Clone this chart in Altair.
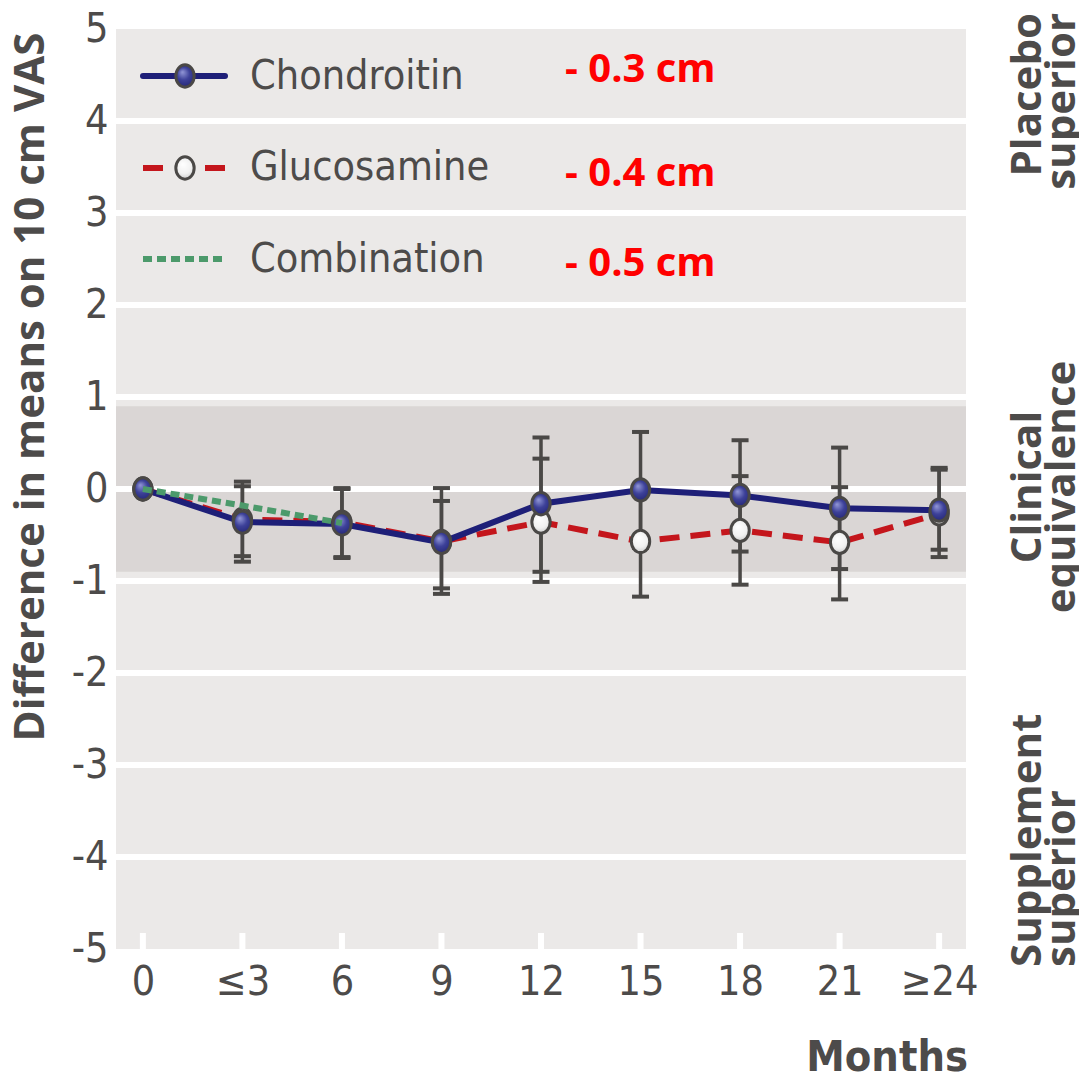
import altair as alt
import pandas as pd

# ---------------- data ----------------
months = ["0", "≤3", "6", "9", "12", "15", "18", "21", "≥24"]

chond = [0.0, -0.36, -0.38, -0.58, -0.16, -0.01, -0.07, -0.21, -0.23]
chond_lo = [None, -0.79, -0.75, -1.14, -0.90, -0.64, -0.68, -0.87, -0.66]
chond_hi = [None, 0.03, 0.01, 0.01, 0.56, 0.62, 0.53, 0.45, 0.23]

gluc = [0.0, -0.33, -0.36, -0.57, -0.36, -0.57, -0.45, -0.58, -0.27]
gluc_lo = [None, -0.73, -0.74, -1.08, -1.01, -1.17, -1.04, -1.20, -0.74]
gluc_hi = [None, 0.08, 0.00, -0.13, 0.33, 0.03, 0.14, 0.02, 0.21]

comb_months = ["0", "≤3", "6"]
comb = [0.0, -0.18, -0.37]

y_ticks = [5, 4, 3, 2, 1, 0, -1, -2, -3, -4, -5]
grid_vals = [4, 3, 2, 1, 0, -1, -2, -3, -4]
equiv_lo, equiv_hi = -0.9, 0.9

legend_labels = ["Chondroitin", "Glucosamine", "Combination"]
effect_labels = ["- 0.3 cm", "- 0.4 cm", "- 0.5 cm"]
y_title = "Difference in means on 10 cm VAS"
x_title = "Months"
side_labels = [["Placebo", "superior"], ["Clinical", "equivalence"], ["Supplement", "superior"]]

# ---------------- styles ----------------
COND = "Liberation Sans Narrow, DejaVu Sans Condensed, sans-serif"
BOLD = "Open Sans, Liberation Sans, sans-serif"
FS = 41
TXT = "#4d4b4a"
NAVY = "#1e1f78"
RED = "#c4161c"
GREEN = "#4c9a6b"
BAR = "#4a4846"
W, H = 850, 920

ELLIPSE = "M0,-1A0.82,1,0,1,1,0,1A0.82,1,0,1,1,0,-1Z"
navy_grad = {"gradient": "radial", "x1": 0.38, "y1": 0.32, "r1": 0.0,
             "x2": 0.5, "y2": 0.5, "r2": 0.62,
             "stops": [{"offset": 0, "color": "#9499d8"},
                       {"offset": 0.45, "color": "#3d4199"},
                       {"offset": 1, "color": "#1c1e6a"}]}
white_grad = {"gradient": "radial", "x1": 0.4, "y1": 0.32, "r1": 0.0,
              "x2": 0.5, "y2": 0.5, "r2": 0.62,
              "stops": [{"offset": 0, "color": "#ffffff"},
                        {"offset": 0.55, "color": "#f1f1f1"},
                        {"offset": 1, "color": "#b9b9b9"}]}

df_c = pd.DataFrame({"month": months, "value": chond, "lo": chond_lo, "hi": chond_hi})
df_g = pd.DataFrame({"month": months, "value": gluc, "lo": gluc_lo, "hi": gluc_hi})
df_comb = pd.DataFrame({"month": comb_months, "value": comb})
df_err = pd.concat([df_c, df_g]).dropna(subset=["lo", "hi"]).reset_index(drop=True)
df_caps = pd.concat([
    pd.DataFrame({"month": df_err["month"], "v": df_err["lo"]}),
    pd.DataFrame({"month": df_err["month"], "v": df_err["hi"]}),
]).reset_index(drop=True)
df_grid = pd.DataFrame({"g": grid_vals})
df_band = pd.DataFrame({"lo": [equiv_lo], "hi": [equiv_hi]})
df_months = pd.DataFrame({"month": months})
one = pd.DataFrame({"k": [0]})

x_scale = alt.Scale(domain=months, type="point", padding=0.27)
y_scale = alt.Scale(domain=[-5, 5], nice=False, zero=False)

x_axis = alt.Axis(labelFont=COND, labelFontSize=FS, labelColor=TXT, ticks=False,
                  domain=False, grid=False, labelPadding=13, labelAngle=0,
                  title=None, labelOverlap=False)
y_axis = alt.Axis(values=y_ticks, ticks=False, domain=False, grid=False,
                  labelFont=COND, labelFontSize=FS, labelColor=TXT,
                  labelPadding=8, title=None, labelFlush=False, labelOverlap=False,
                  labelExpr="datum.value < 0 ? '-' + abs(datum.value) : '' + datum.value")


def X():
    return alt.X("month:N", scale=x_scale, sort=months, axis=x_axis)


def Y(field):
    return alt.Y(field, type="quantitative", scale=y_scale, axis=y_axis)


layers = []

# clinical equivalence band
layers.append(alt.Chart(df_band).mark_rect(color="#dad6d5").encode(
    x=alt.value(0), x2=alt.value(W), y=Y("lo"), y2="hi"))

# white grid lines
layers.append(alt.Chart(df_grid).mark_rule(color="white", strokeWidth=6).encode(
    y=Y("g"), x=alt.value(0), x2=alt.value(W)))

# white bottom ticks
layers.append(alt.Chart(df_months).mark_rule(color="white", strokeWidth=6).encode(
    x=X(), y=alt.value(H), y2=alt.value(H - 16)))

# lines
layers.append(alt.Chart(df_g).mark_line(color=RED, strokeWidth=6, strokeDash=[20, 11]).encode(
    x=X(), y=Y("value")))
layers.append(alt.Chart(df_c).mark_line(color=NAVY, strokeWidth=6).encode(
    x=X(), y=Y("value")))

# error bars
layers.append(alt.Chart(df_err).mark_rule(color=BAR, strokeWidth=3.5).encode(
    x=X(), y=Y("lo"), y2="hi"))
layers.append(alt.Chart(df_caps).mark_tick(color=BAR, thickness=4, size=17,
                                           orient="horizontal", opacity=1).encode(
    x=X(), y=Y("v")))

# markers
layers.append(alt.Chart(df_g).mark_point(shape=ELLIPSE, size=500, filled=True, fill=white_grad,
                                         stroke=BAR, strokeWidth=3, opacity=1).encode(
    x=X(), y=Y("value")))
layers.append(alt.Chart(df_c).mark_point(shape=ELLIPSE, size=500, filled=True, fill=navy_grad,
                                         stroke=BAR, strokeWidth=3, opacity=1).encode(
    x=X(), y=Y("value")))

# combination line
layers.append(alt.Chart(df_comb).mark_line(color=GREEN, strokeWidth=6, strokeDash=[9, 5]).encode(
    x=X(), y=Y("value")))

# ---------------- legend ----------------
rows = [47, 139, 230]
line_styles = [dict(color=NAVY, strokeWidth=6, strokeCap="round"),
               dict(color=RED, strokeWidth=6, strokeDash=[20, 42]),
               dict(color=GREEN, strokeWidth=6, strokeDash=[9, 5])]
marker_fills = [navy_grad, white_grad, None]
text_dy = [1, 0, 1]
effect_y = [41, 145, 235]
for i, lab in enumerate(legend_labels):
    r = rows[i]
    layers.append(alt.Chart(one).mark_rule(**line_styles[i]).encode(
        x=alt.value(27), x2=alt.value(109), y=alt.value(r)))
    if marker_fills[i] is not None:
        layers.append(alt.Chart(one).mark_point(shape=ELLIPSE, size=500, filled=True,
                                                fill=marker_fills[i], stroke=BAR,
                                                strokeWidth=3, opacity=1).encode(
            x=alt.value(69), y=alt.value(r)))
    layers.append(alt.Chart(one).mark_text(align="left", baseline="middle", font=COND,
                                           fontSize=FS, color=TXT).encode(
        x=alt.value(134), y=alt.value(r + text_dy[i]), text=alt.value(lab)))
    layers.append(alt.Chart(one).mark_text(align="left", baseline="middle", font=BOLD,
                                           fontWeight="bold", fontSize=40, color="#ff0000").encode(
        x=alt.value(449), y=alt.value(effect_y[i]), text=alt.value(effect_labels[i])))

# ---------------- titles / side labels ----------------
layers.append(alt.Chart(one).mark_text(angle=270, align="center", baseline="alphabetic",
                                       font=BOLD, fontWeight="bold", fontSize=42, color=TXT).encode(
    x=alt.value(-72), y=alt.value(358), text=alt.value(y_title)))

layers.append(alt.Chart(one).mark_text(align="right", baseline="alphabetic", font=COND,
                                       fontWeight="bold", fontSize=43, color=TXT).encode(
    x=alt.value(852), y=alt.value(1042), text=alt.value(x_title)))

side_pos = [(-16, "right"), (458, "center"), (938, "left")]
side_x = [925, 959]
for (yy, al), pair in zip(side_pos, side_labels):
    for j, word in enumerate(pair):
        layers.append(alt.Chart(one).mark_text(angle=270, align=al, baseline="alphabetic",
                                               font=BOLD, fontWeight="bold", fontSize=42,
                                               color=TXT).encode(
            x=alt.value(side_x[j]), y=alt.value(yy), text=alt.value(word)))

chart = alt.layer(*layers).properties(
    width=W, height=H,
    autosize=alt.AutoSizeParams(type="none"),
    padding={"left": 108, "top": 21, "right": 113, "bottom": 131},
    background="white",
).configure_view(stroke=None, fill="#ebe9e8")

chart.save("out.html", embed_options={"renderer": "svg", "actions": False})
